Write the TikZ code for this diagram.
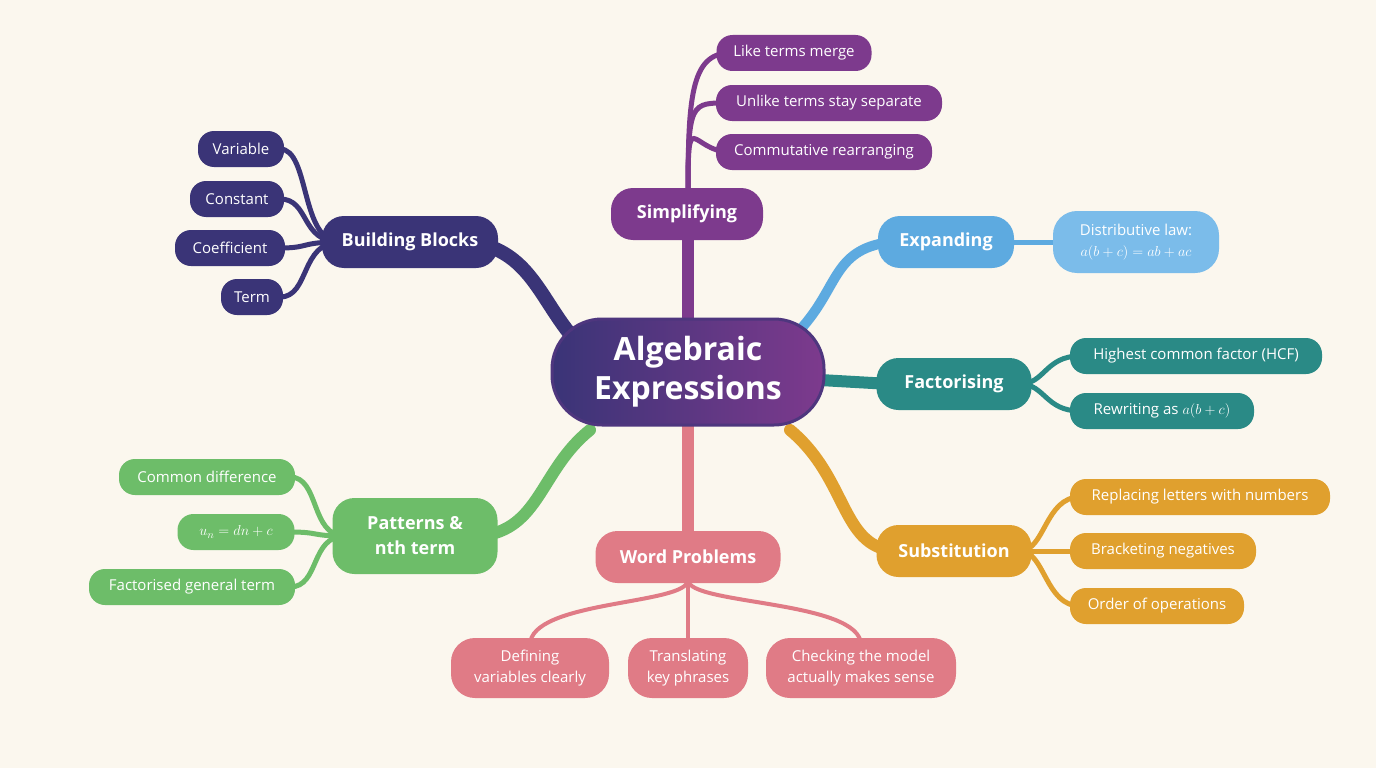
\documentclass[tikz,border=0pt]{standalone}
\usepackage{fontspec}
\setmainfont{Open Sans}
\begin{document}
\definecolor{bg}{HTML}{FBF7EE}
\definecolor{cnavy}{HTML}{3A3477}
\definecolor{cpurp}{HTML}{7D3A8D}
\definecolor{cblue}{HTML}{5DAAE0}
\definecolor{cblueL}{HTML}{7BBCEA}
\definecolor{cteal}{HTML}{2A8A86}
\definecolor{corange}{HTML}{E0A02E}
\definecolor{cgreen}{HTML}{6DBD69}
\definecolor{cpink}{HTML}{E07B86}
\begin{tikzpicture}[x=1pt,y=-1pt,
 base/.style={rounded corners=15pt,text=white,align=center,inner sep=0pt},
 main/.style={base,minimum height=52pt,font=\fontsize{18}{20}\selectfont\bfseries,rounded corners=22pt},
 leaf/.style={base,minimum height=36pt,font=\fontsize{15}{17}\selectfont,rounded corners=16pt},
 leaf2/.style={base,minimum height=60pt,font=\fontsize{15}{21}\selectfont,rounded corners=24pt},
 br/.style={line width=#1,line cap=round}]
\fill[bg] (0,0) rectangle (1376,768);
\useasboundingbox (0,0) rectangle (1376,768);
\draw[br=14pt,cnavy] (575,340) .. controls (540,300) and (530,250) .. (470,242);
\draw[br=12pt,cpurp] (688,320) .. controls (688,280) and (688,260) .. (688,230);
\draw[br=10pt,cblue] (795,335) .. controls (840,290) and (830,250) .. (890,242);
\draw[br=12pt,cteal] (820,380) -- (890,384);
\draw[br=12pt,corange] (790,430) .. controls (850,480) and (840,551) .. (900,551);
\draw[br=12pt,cpink] (688,420) -- (688,540);
\draw[br=12pt,cgreen] (590,430) .. controls (540,470) and (540,530) .. (480,536);
\foreach \y/\x in {149/280,199/280,248/280,297/280}
  \draw[br=5pt,cnavy] (\x,\y) .. controls (310,\y) and (300,242) .. (340,242);
\foreach \y in {53,103,152}
  \draw[br=5pt,cpurp] (730,\y) .. controls (690,\y) and (688,100) .. (688,200);
\draw[br=5pt,cblue] (1000,242) -- (1060,242);
\foreach \y in {356,411}
  \draw[br=5pt,cteal] (1020,384) .. controls (1045,384) and (1045,\y) .. (1080,\y);
\foreach \y in {497,551,606}
  \draw[br=5pt,corange] (1020,551) .. controls (1045,551) and (1045,\y) .. (1080,\y);
\foreach \y in {477,532,587}
  \draw[br=5pt,cgreen] (290,\y) .. controls (320,\y) and (310,536) .. (345,536);
\draw[br=4pt,cpink] (688,580) .. controls (688,605) and (530,600) .. (530,645);
\draw[br=4pt,cpink] (688,580) -- (688,645);
\draw[br=4pt,cpink] (688,580) .. controls (688,605) and (861,600) .. (861,645);
\node[base,minimum width=272pt,minimum height=106pt,rounded corners=50pt,
  left color=cnavy,right color=cpurp,draw=cnavy!70!cpurp,line width=3pt,
  font=\fontsize{32}{39}\selectfont\bfseries] (ctr) at (688,372) {Algebraic\\Expressions};
\node[main,fill=cnavy,minimum width=176pt] (bb) at (410,242) {Building Blocks};
\node[main,fill=cpurp,minimum width=152pt] (si) at (687,214) {Simplifying};
\node[main,fill=cblue,minimum width=136pt] (ex) at (946,242) {Expanding};
\node[main,fill=cteal,minimum width=155pt] (fa) at (954,384) {Factorising};
\node[main,fill=corange,minimum width=155pt] (su) at (954,551) {Substitution};
\node[main,fill=cpink,minimum width=185pt] (wp) at (688,557) {Word Problems};
\node[main,fill=cgreen,minimum width=165pt,minimum height=76pt,font=\fontsize{18}{25}\selectfont\bfseries] (pa) at (415,536) {Patterns \&\\nth term};
\node[leaf,fill=cnavy,minimum width=86pt] at (241,149) {Variable};
\node[leaf,fill=cnavy,minimum width=94pt] at (237,199) {Constant};
\node[leaf,fill=cnavy,minimum width=110pt] at (230,248) {Coefficient};
\node[leaf,fill=cnavy,minimum width=62pt] at (252,297) {Term};
\node[leaf,fill=cpurp,minimum width=155pt] at (794,53) {Like terms merge};
\node[leaf,fill=cpurp,minimum width=226pt] at (829,103) {Unlike terms stay separate};
\node[leaf,fill=cpurp,minimum width=216pt] at (824,152) {Commutative rearranging};
\node[leaf2,fill=cblueL,minimum width=166pt,minimum height=62pt,font=\fontsize{15}{21}\selectfont] at (1136,242) {Distributive law:\\$a(b+c)=ab+ac$};
\node[leaf,fill=cteal,minimum width=252pt] at (1196,356) {Highest common factor (HCF)};
\node[leaf,fill=cteal,minimum width=184pt] at (1162,411) {Rewriting as $a(b+c)$};
\node[leaf,fill=corange,minimum width=260pt] at (1200,497) {Replacing letters with numbers};
\node[leaf,fill=corange,minimum width=186pt] at (1163,551) {Bracketing negatives};
\node[leaf,fill=corange,minimum width=174pt] at (1157,606) {Order of operations};
\node[leaf2,fill=cpink,minimum width=158pt] at (530,668) {Defining\\variables clearly};
\node[leaf2,fill=cpink,minimum width=120pt] at (688,668) {Translating\\key phrases};
\node[leaf2,fill=cpink,minimum width=190pt] at (861,668) {Checking the model\\actually makes sense};
\node[leaf,fill=cgreen,minimum width=176pt] at (207,477) {Common difference};
\node[leaf,fill=cgreen,minimum width=117pt] at (236,532) {$u_n=dn+c$};
\node[leaf,fill=cgreen,minimum width=206pt] at (192,587) {Factorised general term};
\end{tikzpicture}
\end{document}
